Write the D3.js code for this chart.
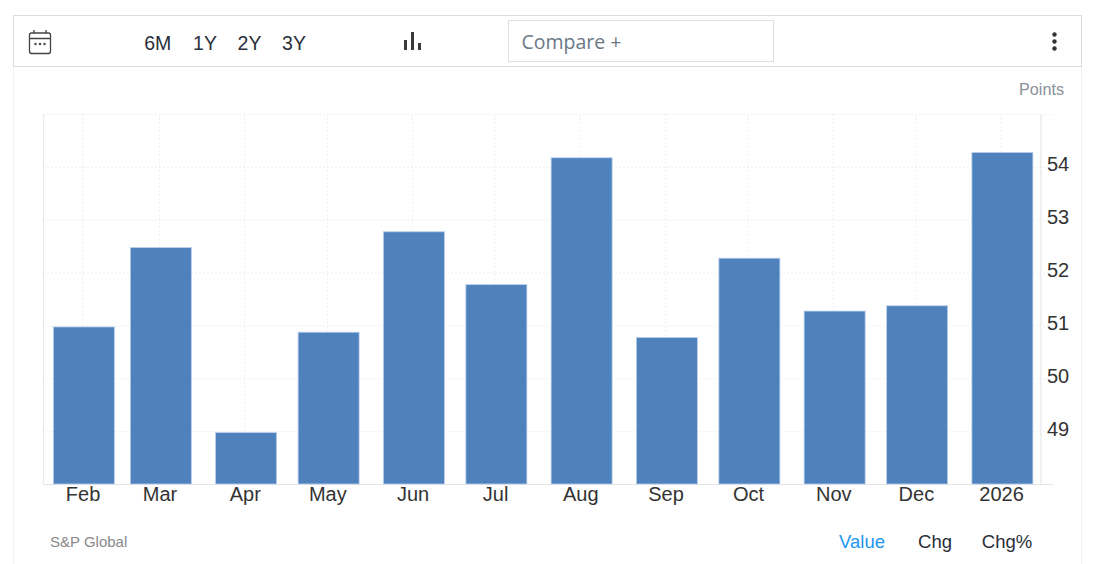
<!DOCTYPE html>
<html>
<head>
<meta charset="utf-8">
<script src="https://cdn.jsdelivr.net/npm/d3@7/dist/d3.min.js"></script>
<style>
html,body{margin:0;padding:0;background:#fff;overflow:hidden}
svg{display:block}
text{font-family:"Liberation Sans",Arial,sans-serif}
.ui{font-family:"Open Sans","Noto Sans",sans-serif}
</style>
</head>
<body>
<svg id="c" width="1098" height="564"></svg>
<script>
const months = ["2025-02-01","2025-03-01","2025-04-01","2025-05-01","2025-06-01","2025-07-01","2025-08-01","2025-09-01","2025-10-01","2025-11-01","2025-12-01","2026-01-01"];
const monthLabels = ["Feb","Mar","Apr","May","Jun","Jul","Aug","Sep","Oct","Nov","Dec","2026"];
const values = [51.0,52.5,49.0,50.9,52.8,51.8,54.2,50.8,52.3,51.3,51.4,54.3];
const yTicks = [49,50,51,52,53,54];
const ranges = ["6M","1Y","2Y","3Y"];
const modes = ["Value","Chg","Chg%"];
const parse = d3.utcParse("%Y-%m-%d");
const dates = months.map(parse);

const svg = d3.select("#c");
const plotLeft=43,plotRight=1040,plotTop=114,plotBottom=484;
const x = d3.scaleUtc().domain([parse("2025-01-17"),parse("2026-01-15")]).range([42.6,1040.9]);
const y = d3.scaleLinear().domain([48,55]).range([plotBottom+.5,plotTop+.5]);
const barW = 61;
const tickShift = -1.3;

// panel edges
svg.append("path").attr("d","M13.5 67V564M1081.5 67V564").attr("stroke","#f2f2f2").attr("fill","none");
// toolbar
svg.append("rect").attr("x",13.5).attr("y",15.5).attr("width",1068).attr("height",51).attr("fill","#fff").attr("stroke","#dcdcdc");

// calendar icon
const cal = svg.append("g").attr("fill","none").attr("stroke","#444").attr("stroke-width",1.3);
cal.append("rect").attr("x",29.5).attr("y",33).attr("width",21).attr("height",20.5).attr("rx",2);
cal.append("path").attr("d","M29.5 38.5H50.5M34 30V33M46 30V33");
svg.append("g").selectAll("circle").data([35.5,40,44.5]).join("circle").attr("cx",d=>d).attr("cy",44).attr("r",1.2).attr("fill","#444");

// range buttons
const rangeX = [157.7,205,249.5,294];
svg.append("g").selectAll("text").data(ranges).join("text")
  .attr("x",(d,i)=>rangeX[i]).attr("y",49.5).attr("text-anchor","middle").attr("font-size",19.5).attr("fill","#2a2f38").text(d=>d);

// bar icon
svg.append("g").selectAll("rect").data([[404,10],[411,18],[418,7]]).join("rect")
  .attr("x",d=>d[0]).attr("y",d=>50-d[1]).attr("width",3).attr("height",d=>d[1]).attr("fill","#3a3a3a");

// compare box
svg.append("rect").attr("x",508.5).attr("y",20.5).attr("width",265).attr("height",41).attr("fill","#fff").attr("stroke","#e0e0da");
svg.append("text").attr("class","ui").attr("x",521.5).attr("y",49).attr("font-size",19.5).attr("fill","#6b7885").text("Compare +");

// menu dots
svg.append("g").selectAll("circle").data([34.5,41.5,48.5]).join("circle").attr("cx",1054.5).attr("cy",d=>d).attr("r",2.2).attr("fill","#333");

svg.append("text").attr("x",1064).attr("y",95).attr("text-anchor","end").attr("font-size",16.2).attr("fill","#8a8f98").text("Points");

// grid
const grid = svg.append("g").attr("stroke","#efefef").attr("stroke-dasharray","2 2").attr("fill","none");
grid.selectAll(".h").data(yTicks.concat([55])).join("line").attr("class","h").attr("x1",plotLeft).attr("x2",1052)
  .attr("y1",d=>y(d)).attr("y2",d=>y(d));
grid.selectAll(".v").data(dates).join("line").attr("class","v").attr("y1",plotTop).attr("y2",plotBottom)
  .attr("x1",d=>x(d)+tickShift).attr("x2",d=>x(d)+tickShift);

// axis lines
svg.append("path").attr("d",`M${plotLeft+.5} ${plotTop}V${plotBottom}`).attr("stroke","#e9e9e9").attr("fill","none");
svg.append("path").attr("d",`M${plotRight+1} ${plotTop}V${plotBottom}`).attr("stroke","#ebebeb").attr("stroke-width",1.5).attr("fill","none");
svg.append("path").attr("d",`M${plotLeft} ${plotBottom+.5}H1053`).attr("stroke","#e4e4e4").attr("fill","none");

// bars
svg.append("g").selectAll("rect").data(values).join("rect")
  .attr("x",(d,i)=>x(dates[i])-barW/2)
  .attr("y",d=>y(d)+1)
  .attr("width",barW)
  .attr("height",d=>plotBottom-y(d)-1)
  .attr("fill","#4f81bd").attr("stroke","#b8cfec").attr("stroke-width",.8);

// tick labels
const xAxis = d3.axisBottom(x).tickValues(dates).tickSize(0).tickPadding(0).tickFormat((d,i)=>monthLabels[i]);
const xg = svg.append("g").attr("transform",`translate(${tickShift},${plotBottom})`).call(xAxis);
xg.select(".domain").remove();
xg.selectAll("text").attr("y",-2).attr("dy","0.96em").attr("font-size",20).attr("font-family",'"Liberation Sans",Arial,sans-serif').attr("fill","#333");

const yAxis = d3.axisRight(y).tickValues(yTicks).tickSize(0).tickPadding(0).tickFormat(d3.format("d"));
const yg = svg.append("g").attr("transform","translate(1047,-3)").call(yAxis);
yg.select(".domain").remove();
yg.selectAll("text").attr("x",0).attr("font-size",20).attr("font-family",'"Liberation Sans",Arial,sans-serif').attr("fill","#333");

svg.append("text").attr("x",50).attr("y",547).attr("font-size",15).attr("fill","#8a8a8a").text("S&P Global");

const modeX = [862,935,1007];
svg.append("g").selectAll("text").data(modes).join("text")
  .attr("x",(d,i)=>modeX[i]).attr("y",547.5).attr("text-anchor","middle").attr("font-size",18.5)
  .attr("fill",(d,i)=>i===0?"#2196f3":"#2a2f38").text(d=>d);
</script>
</body>
</html>
